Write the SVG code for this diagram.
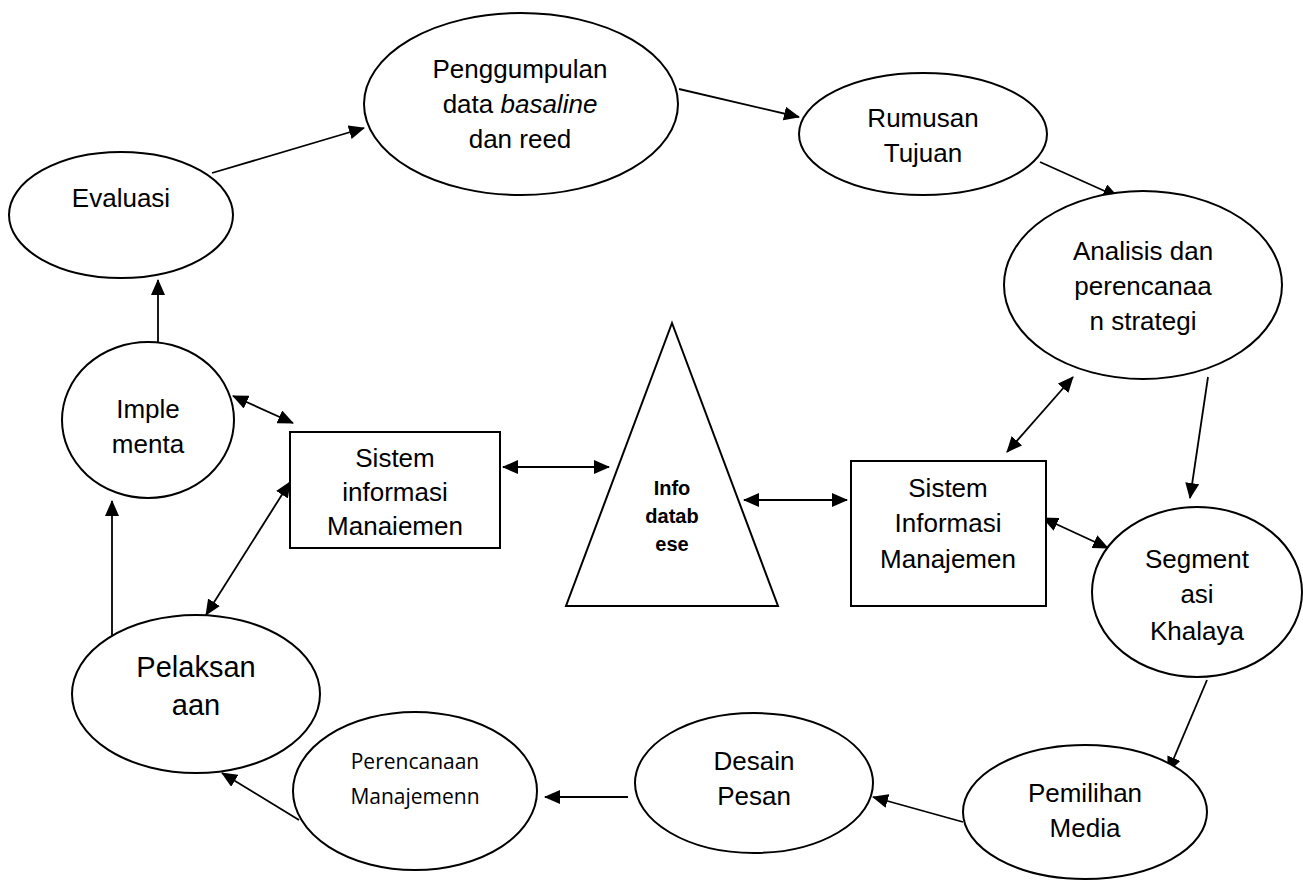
<svg xmlns="http://www.w3.org/2000/svg" width="1303" height="881" viewBox="0 0 1303 881">
<style>
.shape{fill:#fff;stroke:#000;stroke-width:2}
.t{font-family:"Liberation Sans",Arial,sans-serif;font-size:26px;fill:#000;text-anchor:middle}
.big{font-size:29px}
.b{font-weight:bold;font-size:20px}
.c{font-family:"Open Sans","Noto Sans",sans-serif;font-size:21px;fill:#000;text-anchor:middle}
.ln{stroke:#000;stroke-width:1.8;fill:none}
.a{marker-end:url(#ah)}
.d{marker-start:url(#ah);marker-end:url(#ah)}
</style>
<defs>
<marker id="ah" markerUnits="userSpaceOnUse" markerWidth="16" markerHeight="14" refX="15" refY="7" orient="auto-start-reverse" viewBox="0 0 16 14">
<path d="M0,0 L16,7 L0,14 z" fill="#000"/>
</marker>
</defs>
<rect width="1303" height="881" fill="#fff"/>
<g id="connectors">
<line class="ln a" x1="212" y1="173" x2="364" y2="128"/>
<line class="ln a" x1="679" y1="89" x2="799" y2="117"/>
<line class="ln a" x1="1040" y1="162" x2="1118" y2="197"/>
<line class="ln a" x1="1208" y1="377" x2="1190" y2="498"/>
<line class="ln a" x1="1207" y1="680" x2="1168" y2="772"/>
<line class="ln a" x1="963" y1="822" x2="873" y2="797"/>
<line class="ln a" x1="628" y1="797" x2="545" y2="797"/>
<line class="ln a" x1="299" y1="820" x2="222" y2="773"/>
<line class="ln a" x1="112" y1="638" x2="112" y2="501"/>
<line class="ln a" x1="158" y1="362" x2="158" y2="280"/>
<line class="ln d" x1="233" y1="396" x2="293" y2="423"/>
<line class="ln d" x1="290" y1="482" x2="206" y2="615"/>
<line class="ln d" x1="503" y1="467" x2="609" y2="467"/>
<line class="ln d" x1="744" y1="500" x2="847" y2="500"/>
<line class="ln d" x1="1073" y1="377" x2="1007" y2="452"/>
<line class="ln d" x1="1043" y1="518" x2="1108" y2="548"/>
</g>
<g id="evaluasi">
<ellipse class="shape" cx="121" cy="215" rx="112" ry="63"/>
<text class="t" x="121" y="207">Evaluasi</text>
</g>
<g id="penggumpulan">
<ellipse class="shape" cx="521" cy="104" rx="157" ry="91"/>
<text class="t" x="520" y="78">Penggumpulan</text>
<text class="t" x="520" y="113">data <tspan font-style="italic">basaline</tspan></text>
<text class="t" x="520" y="148">dan reed</text>
</g>
<g id="rumusan">
<ellipse class="shape" cx="923" cy="134" rx="124" ry="61"/>
<text class="t" x="923" y="127">Rumusan</text>
<text class="t" x="923" y="162">Tujuan</text>
</g>
<g id="analisis">
<ellipse class="shape" cx="1143" cy="285" rx="139" ry="94"/>
<text class="t" x="1143" y="260">Analisis dan</text>
<text class="t" x="1143" y="295">perencanaa</text>
<text class="t" x="1143" y="330">n strategi</text>
</g>
<g id="segmentasi">
<ellipse class="shape" cx="1197" cy="592" rx="105" ry="85"/>
<text class="t" x="1197" y="568">Segment</text>
<text class="t" x="1197" y="603">asi</text>
<text class="t" x="1197" y="640">Khalaya</text>
</g>
<g id="pemilihan">
<ellipse class="shape" cx="1085" cy="812" rx="122" ry="67"/>
<text class="t" x="1085" y="802">Pemilihan</text>
<text class="t" x="1085" y="837">Media</text>
</g>
<g id="desain">
<ellipse class="shape" cx="754" cy="783" rx="119" ry="70"/>
<text class="t" x="754" y="770">Desain</text>
<text class="t" x="754" y="805">Pesan</text>
</g>
<g id="perencanaan">
<ellipse class="shape" cx="415" cy="791" rx="122" ry="79"/>
<text class="c" x="415" y="769">Perencanaan</text>
<text class="c" x="415" y="804">Manajemenn</text>
</g>
<g id="pelaksanaan">
<ellipse class="shape" cx="196" cy="694" rx="124" ry="79"/>
<text class="t big" x="196" y="677">Pelaksan</text>
<text class="t big" x="196" y="715">aan</text>
</g>
<g id="implementa">
<ellipse class="shape" cx="148" cy="420" rx="86" ry="78"/>
<text class="t" x="148" y="418">Imple</text>
<text class="t" x="148" y="453">menta</text>
</g>
<g id="sim-left">
<rect class="shape" x="290" y="432" width="210" height="116"/>
<text class="t" x="395" y="467">Sistem</text>
<text class="t" x="395" y="501">informasi</text>
<text class="t" x="395" y="535">Manaiemen</text>
</g>
<g id="info-database">
<polygon class="shape" points="672,323 778,606 566,606"/>
<text class="t b" x="672" y="495">Info</text>
<text class="t b" x="672" y="523">datab</text>
<text class="t b" x="672" y="551">ese</text>
</g>
<g id="sim-right">
<rect class="shape" x="851" y="461" width="195" height="145"/>
<text class="t" x="948" y="497">Sistem</text>
<text class="t" x="948" y="532">Informasi</text>
<text class="t" x="948" y="568">Manajemen</text>
</g>
</svg>
